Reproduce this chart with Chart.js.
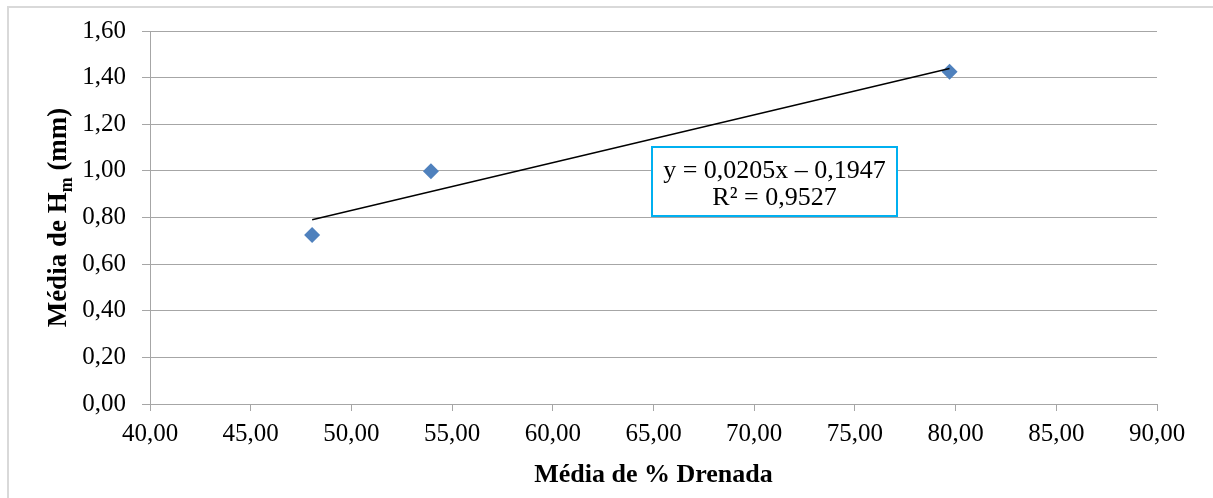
<!DOCTYPE html>
<html lang="pt">
<head>
    <meta charset="UTF-8">
    <title>Média de Hm x Média de % Drenada</title>
    <script src="https://cdn.jsdelivr.net/npm/chart.js"></script>
    <style>
        html, body {
    margin: 0;
    padding: 0;
    background: #ffffff;
    overflow: hidden;
}

.frame {
    position: absolute;
    left: 7px;
    top: 6px;
    width: 1300px;
    height: 600px;
    border-top: 2px solid #d9d9d9;
    border-left: 2px solid #d9d9d9;
}

#regChart {
    position: absolute;
    left: 0;
    top: 0;
}
    </style>
</head>
<body>
    <div class="frame"></div>
    <canvas id="regChart" width="1213" height="498"></canvas>

    <script>
        // Medições (média de % drenada vs média de Hm)
        const drenada = [48.05, 53.95, 79.7];
        const alturaHm = [0.725, 0.998, 1.425];

        // Linha de tendência linear e coeficiente de determinação
        const slope = 0.0205;
        const intercept = -0.1947;
        const r2 = 0.9527;

        const xTicks = [40, 45, 50, 55, 60, 65, 70, 75, 80, 85, 90];
        const yTicks = [0, 0.2, 0.4, 0.6, 0.8, 1.0, 1.2, 1.4, 1.6];

        const serif = '"Liberation Serif", "Times New Roman", serif';
        const gridColor = '#a6a6a6';

        const fmt = v => v.toFixed(2).replace('.', ',');
        const fmt4 = v => Math.abs(v).toFixed(4).replace('.', ',');

        const points = drenada.map((x, i) => ({ x: x, y: alturaHm[i] }));
        const xMin = Math.min(...drenada);
        const xMax = Math.max(...drenada);
        const trend = [
            { x: xMin, y: slope * xMin + intercept },
            { x: xMax, y: slope * xMax + intercept }
        ];

        // titles and the regression label box
        const annotations = {
            id: 'annotations',
            afterDatasetsDraw(chart) {
                const ctx = chart.ctx;
                const area = chart.chartArea;
                ctx.save();

                // equation box
                const bx = area.left + 502, by = area.top + 116, bw = 245, bh = 69;
                ctx.fillStyle = '#ffffff';
                ctx.fillRect(bx, by, bw, bh);
                ctx.strokeStyle = '#00b0f0';
                ctx.lineWidth = 2;
                ctx.strokeRect(bx, by, bw, bh);
                ctx.fillStyle = '#000000';
                ctx.font = '26px ' + serif;
                ctx.textAlign = 'center';
                ctx.textBaseline = 'middle';
                const sign = intercept < 0 ? '\u2013' : '+';
                ctx.fillText('y = ' + fmt4(slope) + 'x ' + sign + ' ' + fmt4(intercept), bx + bw / 2, by + 24);
                ctx.fillText('R\u00b2 = ' + fmt4(r2), bx + bw / 2, by + 51);

                // x axis title
                ctx.font = 'bold 26px ' + serif;
                ctx.fillText('Média de % Drenada', (area.left + area.right) / 2, 475);

                // y axis title with subscript
                ctx.translate(59, (area.top + area.bottom) / 2);
                ctx.rotate(-Math.PI / 2);
                const main = 'Média de H';
                const sub = 'm';
                const tail = ' (mm)';
                ctx.font = 'bold 27px ' + serif;
                const wMain = ctx.measureText(main).width;
                const wTail = ctx.measureText(tail).width;
                ctx.font = 'bold 18px ' + serif;
                const wSub = ctx.measureText(sub).width;
                let x0 = -(wMain + wSub + wTail) / 2;
                ctx.textAlign = 'left';
                ctx.font = 'bold 27px ' + serif;
                ctx.fillText(main, x0, 0);
                ctx.font = 'bold 18px ' + serif;
                ctx.fillText(sub, x0 + wMain, 8);
                ctx.font = 'bold 27px ' + serif;
                ctx.fillText(tail, x0 + wMain + wSub, 0);
                ctx.restore();
            }
        };

        const ctx = document.getElementById('regChart').getContext('2d');
        const regChart = new Chart(ctx, {
            type: 'scatter',
            data: {
                datasets: [
                    {
                        label: 'Tendência',
                        data: trend,
                        showLine: true,
                        borderColor: '#000000',
                        borderWidth: 1.3,
                        pointRadius: 0,
                        order: 0
                    },
                    {
                        label: 'Média de Hm',
                        data: points,
                        pointStyle: 'rectRot',
                        pointRadius: 8,
                        backgroundColor: '#4f81bd',
                        borderColor: '#4f81bd',
                        borderWidth: 0,
                        order: 1
                    }
                ]
            },
            options: {
                responsive: false,
                animation: false,
                layout: {
                    padding: { top: 31, right: 56, left: 0, bottom: 0 }
                },
                plugins: {
                    legend: { display: false },
                    tooltip: { enabled: false }
                },
                scales: {
                    x: {
                        type: 'linear',
                        min: 40,
                        max: 90,
                        afterFit: scale => { scale.height = 94; },
                        afterBuildTicks: scale => { scale.ticks = xTicks.map(v => ({ value: v })); },
                        grid: {
                            drawOnChartArea: false,
                            drawTicks: true,
                            tickLength: 7,
                            color: gridColor
                        },
                        border: { color: gridColor, width: 1 },
                        ticks: {
                            color: '#000000',
                            padding: 8,
                            maxRotation: 0,
                            font: { family: serif, size: 25 },
                            callback: v => fmt(v)
                        }
                    },
                    y: {
                        type: 'linear',
                        min: 0,
                        max: 1.6,
                        afterFit: scale => { scale.width = 150; },
                        afterBuildTicks: scale => { scale.ticks = yTicks.map(v => ({ value: v })); },
                        grid: {
                            drawTicks: true,
                            tickLength: 8,
                            color: gridColor
                        },
                        border: { color: gridColor, width: 1 },
                        ticks: {
                            color: '#000000',
                            padding: 16,
                            font: { family: serif, size: 25 },
                            callback: v => fmt(v)
                        }
                    }
                }
            },
            plugins: [annotations]
        });
    </script>
</body>
</html>
